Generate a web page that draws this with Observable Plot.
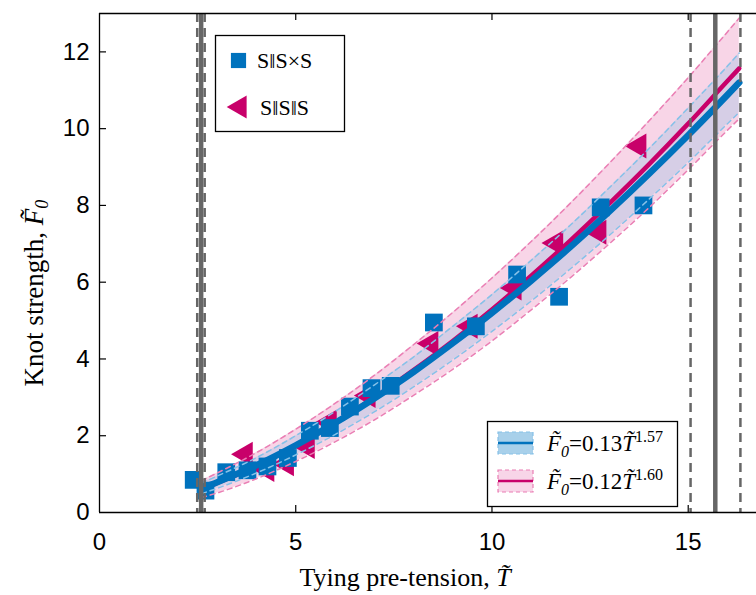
<!DOCTYPE html>
<html>
<head>
<meta charset="utf-8">
<script src="https://cdn.jsdelivr.net/npm/d3@7"></script>
<script src="https://cdn.jsdelivr.net/npm/@observablehq/plot@0.6"></script>
<style>
  body { margin: 0; background: #fff; }
  #chart { position: relative; width: 756px; height: 595px; overflow: hidden; }
</style>
</head>
<body>
<div id="chart"></div>
<script>
// Axis ticks
const xTicks = [0, 5, 10, 15];
const yTicks = [0, 2, 4, 6, 8, 10, 12];

// Measured knot strength vs tying pre-tension, S‖S×S knots (squares)
const sxsT = [2.40, 2.70, 3.23, 3.77, 4.28, 4.80, 5.36, 5.87, 6.38, 6.93, 7.42, 8.52, 9.59, 10.64, 11.71, 12.77, 13.86];
const sxsF = [0.85, 0.57, 1.05, 1.10, 1.20, 1.42, 2.13, 2.20, 2.76, 3.24, 3.30, 4.95, 4.85, 6.20, 5.62, 7.95, 8.00];

// Measured knot strength, S‖S‖S knots (triangles)
const sssT = [3.72, 4.27, 4.77, 5.30, 5.86, 6.85, 8.45, 9.45, 10.57, 11.63, 12.73, 13.75];
const sssF = [1.52, 1.12, 1.27, 1.72, 2.35, 3.05, 4.40, 4.85, 5.85, 7.02, 7.30, 9.55];

// Power-law fits and their confidence bands, sampled along T
const fitT     = [2.6, 3, 4, 5, 6, 7, 8, 9, 10, 11, 12, 13, 14, 15, 16, 16.3];
const sxsFit   = [0.63, 0.79, 1.23, 1.75, 2.33, 2.97, 3.66, 4.41, 5.20, 6.04, 6.92, 7.85, 8.82, 9.83, 10.88, 11.20];
const sxsHi    = [0.77, 0.95, 1.43, 2.00, 2.63, 3.32, 4.05, 4.85, 5.68, 6.57, 7.49, 8.47, 9.48, 10.54, 11.63, 11.97];
const sxsLo    = [0.49, 0.63, 1.03, 1.50, 2.03, 2.62, 3.27, 3.97, 4.72, 5.51, 6.35, 7.23, 8.16, 9.12, 10.13, 10.43];
const sssFit   = [0.61, 0.77, 1.22, 1.75, 2.34, 2.99, 3.71, 4.47, 5.29, 6.17, 7.09, 8.06, 9.07, 10.13, 11.24, 11.57];
const sssHi    = [0.83, 1.03, 1.56, 2.17, 2.84, 3.57, 4.37, 5.21, 6.11, 7.06, 8.06, 9.11, 10.20, 11.33, 12.52, 12.88];
const sssLo    = [0.39, 0.51, 0.88, 1.33, 1.84, 2.41, 3.05, 3.73, 4.47, 5.28, 6.12, 7.01, 7.94, 8.93, 9.96, 10.26];

// Vertical guides: mean tension (solid) and spread (dashed)
const solidGuides  = [2.59, 15.69];
const dashedGuides = [2.49, 2.68, 15.06, 16.33];

// Legend text
const seriesNames = ["S\u2016S\u00D7S", "S\u2016S\u2016S"];
const fitCoef = ["0.13", "0.12"];
const fitExp  = ["1.57", "1.60"];

const BLUE = "#0072bd";
const PINK = "#c8006a";

const squares   = sxsT.map((t, i) => ({t, f: sxsF[i]}));
const triangles = sssT.map((t, i) => ({t, f: sssF[i]}));
const sxsBand = fitT.map((t, i) => ({t, fit: sxsFit[i], lo: sxsLo[i], hi: sxsHi[i]}));
const sssBand = fitT.map((t, i) => ({t, fit: sssFit[i], lo: sssLo[i], hi: sssHi[i]}));

const W = 756, H = 595;
const mL = 99, mR = 0, mT = 13, mB = 83;
const plotW = W - mL - mR, plotH = H - mT - mB;
const tickLen = 7;

const chart = Plot.plot({
  width: W,
  height: H,
  marginLeft: mL,
  marginRight: mR,
  marginTop: mT,
  marginBottom: mB,
  x: {domain: [0, 16.74]},
  y: {domain: [0, 13]},
  style: {fontFamily: "'Liberation Sans', Arial, sans-serif", background: "#fff", color: "#000"},
  marks: [
    // confidence bands
    Plot.areaY(sssBand, {x: "t", y1: "lo", y2: "hi", fill: "#f8d3e6", fillOpacity: 0.95, curve: "monotone-x"}),
    Plot.areaY(sxsBand, {x: "t", y1: "lo", y2: "hi", fill: "#98c3e6", fillOpacity: 0.35, curve: "monotone-x"}),
    // measured points and fits
    Plot.dot(triangles, {x: "t", y: "f", symbol: "triangle", rotate: -90, r: 9.3, fill: PINK, stroke: "none"}),
    Plot.line(sssBand, {x: "t", y: "fit", stroke: PINK, strokeWidth: 4.5, curve: "monotone-x"}),
    Plot.line(sxsBand, {x: "t", y: "fit", stroke: BLUE, strokeWidth: 6.5, curve: "monotone-x"}),
    Plot.dot(squares, {x: "t", y: "f", symbol: "square", r: 10, fill: BLUE, stroke: "none"}),
    // band edges
    Plot.line(sssBand, {x: "t", y: "hi", stroke: "#ea7fb4", strokeWidth: 1.5, strokeDasharray: "5,4", curve: "monotone-x"}),
    Plot.line(sssBand, {x: "t", y: "lo", stroke: "#ea7fb4", strokeWidth: 1.5, strokeDasharray: "5,4", curve: "monotone-x"}),
    Plot.line(sxsBand, {x: "t", y: "hi", stroke: "#86c1e8", strokeWidth: 1.5, strokeDasharray: "5,4", curve: "monotone-x"}),
    Plot.line(sxsBand, {x: "t", y: "lo", stroke: "#86c1e8", strokeWidth: 1.5, strokeDasharray: "5,4", curve: "monotone-x"}),
    // vertical guides
    Plot.ruleX(dashedGuides, {stroke: "#666", strokeWidth: 2.5, strokeDasharray: "9,6"}),
    Plot.ruleX(solidGuides, {stroke: "#666", strokeWidth: 4.5}),
    // frame
    Plot.ruleX([0], {stroke: "#000", strokeWidth: 1.3}),
    Plot.ruleY([0, 13], {stroke: "#000", strokeWidth: 1.3}),
    // inward ticks
    Plot.tickX(xTicks.filter(d => d > 0), {x: d => d, insetTop: plotH - tickLen, stroke: "#000", strokeWidth: 1.2}),
    Plot.tickX(xTicks.filter(d => d > 0), {x: d => d, insetBottom: plotH - tickLen, stroke: "#000", strokeWidth: 1.2}),
    Plot.tickY(yTicks.filter(d => d > 0), {y: d => d, insetRight: plotW - tickLen, stroke: "#000", strokeWidth: 1.2}),
    // tick labels
    Plot.axisX(xTicks, {tickSize: 0, tickPadding: 20, fontSize: 24, label: null}),
    Plot.axisY(yTicks, {tickSize: 0, tickPadding: 10, fontSize: 24, label: null})
  ]
});

document.getElementById("chart").appendChild(chart);

// Axis titles and legends (rich text with tildes, subscripts, superscripts)
const svg = d3.select(chart);
const serif = "'Liberation Serif', 'Times New Roman', serif";

function serifText(sel, size) {
  return sel.append("text")
    .attr("font-family", serif)
    .attr("font-size", size)
    .attr("fill", "#000");
}

const xt = serifText(svg, 26)
  .attr("x", 405).attr("y", 586)
  .attr("text-anchor", "middle");
xt.append("tspan").text("Tying pre-tension, ");
xt.append("tspan").attr("font-style", "italic").text("T\u0303");

const yt = serifText(svg, 27)
  .attr("transform", "translate(43,293) rotate(-90)")
  .attr("text-anchor", "middle");
yt.append("tspan").text("Knot strength, ");
yt.append("tspan").attr("font-style", "italic").text("F\u0303");
yt.append("tspan").attr("font-style", "italic").attr("font-size", 18).attr("dy", 5).text("0");

// Marker legend
const lg1 = svg.append("g");
lg1.append("rect").attr("x", 215.5).attr("y", 35.5).attr("width", 129).attr("height", 96)
  .attr("fill", "#fff").attr("stroke", "#000").attr("stroke-width", 1.3);
lg1.append("path").attr("transform", "translate(238.5,60.5)")
  .attr("d", d3.symbol(d3.symbolSquare, 230)()).attr("fill", BLUE);
lg1.append("path").attr("transform", "translate(240,107) rotate(-90)")
  .attr("d", d3.symbol(d3.symbolTriangle, 230)()).attr("fill", PINK);
serifText(lg1, 22).attr("text-anchor", "start").attr("x", 257).attr("y", 68).text(seriesNames[0]);
serifText(lg1, 22).attr("text-anchor", "start").attr("x", 260).attr("y", 115).text(seriesNames[1]);

// Fit legend
const lg2 = svg.append("g");
lg2.append("rect").attr("x", 487.5).attr("y", 421.5).attr("width", 190).attr("height", 85)
  .attr("fill", "#fff").attr("stroke", "#000").attr("stroke-width", 1.3);
const rows = [
  {y: 443, fill: "#a8d0ea", edge: "#86c1e8", line: BLUE, lw: 2.5},
  {y: 481, fill: "#f8d5e8", edge: "#ea7fb4", line: PINK, lw: 2.5}
];
rows.forEach((r, i) => {
  lg2.append("rect").attr("x", 498).attr("y", r.y - 11).attr("width", 35).attr("height", 22)
    .attr("fill", r.fill).attr("stroke", r.edge).attr("stroke-width", 1.2).attr("stroke-dasharray", "4,3");
  lg2.append("line").attr("x1", 498).attr("x2", 533).attr("y1", r.y).attr("y2", r.y)
    .attr("stroke", r.line).attr("stroke-width", r.lw);
  const t = serifText(lg2, 23).attr("text-anchor", "start").attr("x", 547).attr("y", r.y + 8);
  t.append("tspan").attr("font-style", "italic").text("F\u0303");
  t.append("tspan").attr("font-style", "italic").attr("font-size", 16).attr("dy", 6).text("0");
  t.append("tspan").attr("dy", -6).text("=" + fitCoef[i]);
  t.append("tspan").attr("font-style", "italic").text("T\u0303");
  t.append("tspan").attr("font-size", 16).attr("dy", -9).text(fitExp[i]);
});
</script>
</body>
</html>
